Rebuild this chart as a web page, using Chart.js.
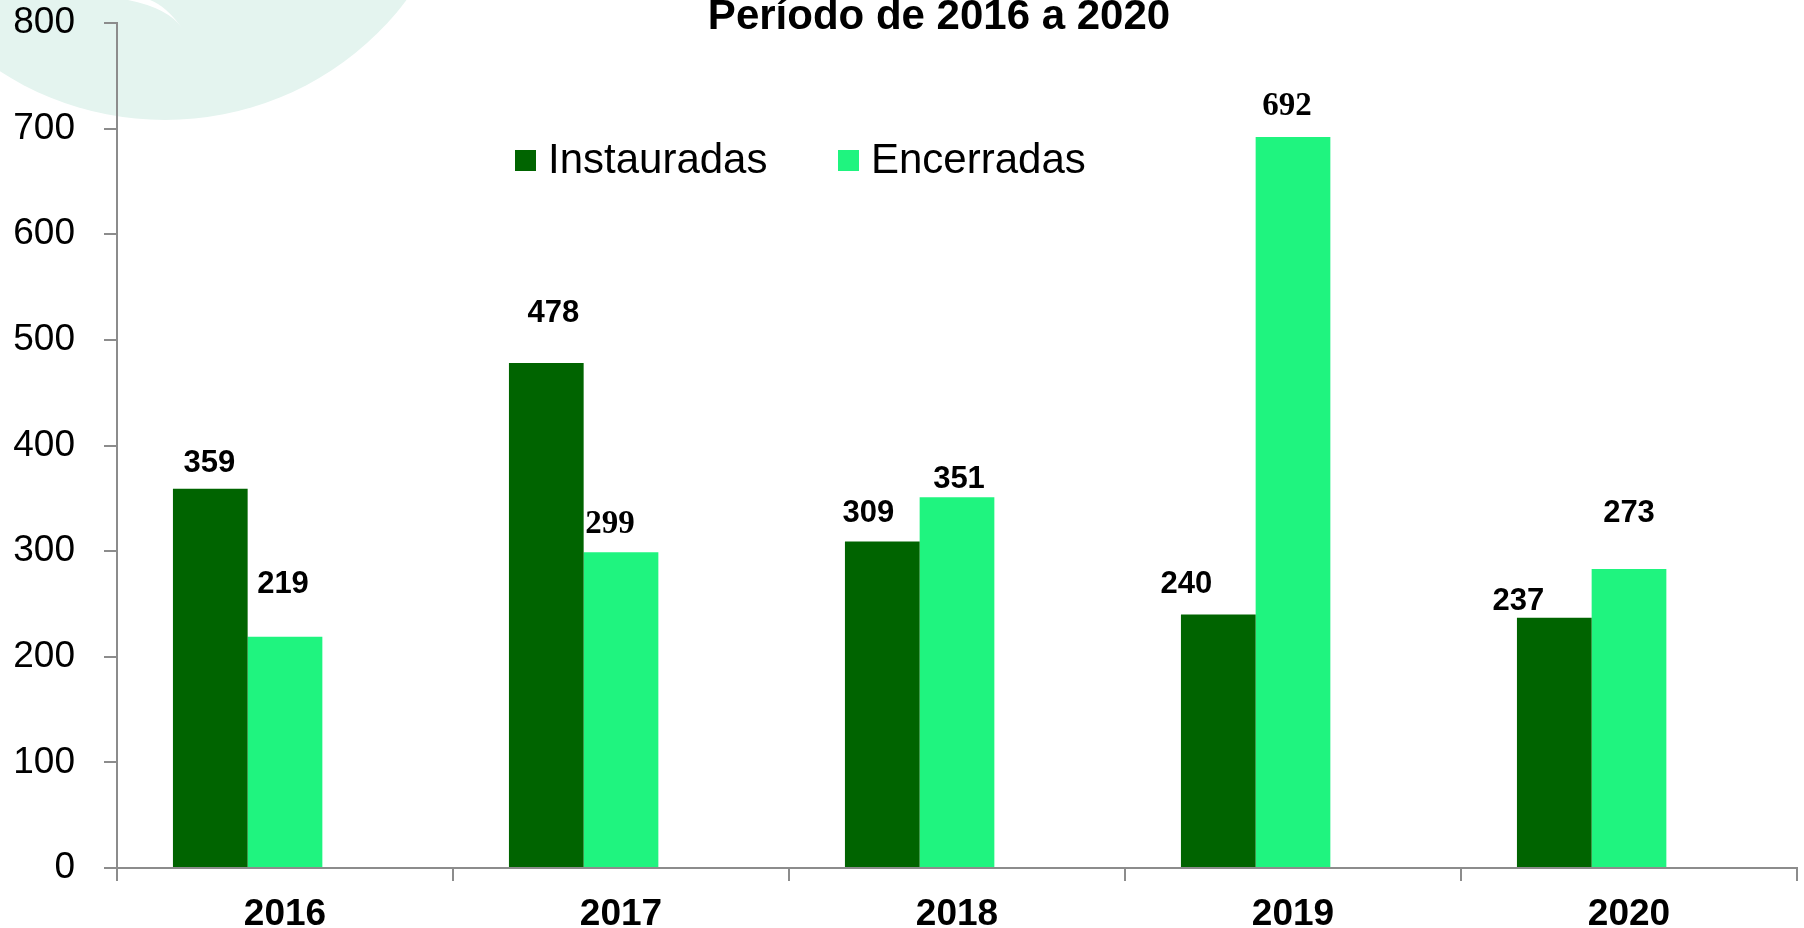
<!DOCTYPE html>
<html lang="pt-BR">
<head>
<meta charset="utf-8">
<title>Sindicâncias - Período de 2016 a 2020</title>
<script src="https://cdn.jsdelivr.net/npm/chart.js@4.4.1/dist/chart.umd.min.js"></script>
<style>
    html, body { margin: 0; padding: 0; background: #fff; overflow: hidden; }
    #wrap { width: 1804px; height: 928px; }
</style>
</head>
<body>
<div id="wrap"><canvas id="sindicanciasChart" width="1804" height="928"></canvas></div>
<script>
// Dados
const anos = ['2016', '2017', '2018', '2019', '2020'];
const instauradas = [359, 478, 309, 240, 237];
const encerradas = [219, 299, 351, 692, 283];
// rótulos como aparecem no gráfico original (2020 diz 273)
const rotulosInstauradas = ['359', '478', '309', '240', '237'];
const rotulosEncerradas = ['219', '299', '351', '692', '273'];
// série vazia: o grupo original reserva espaço para uma terceira barra
const serieVazia = [null, null, null, null, null];
const yTicks = [0, 100, 200, 300, 400, 500, 600, 700, 800];
const titulo = 'Período de 2016 a 2020';

// Estilo dos rótulos (deslocamento em px relativo ao topo da barra)
const rotuloDx = [[-1, 7, -14, -32, -36], [-2, -11, 2, -6, 0]];
const rotuloGap = [[25, 50, 28, 30, 16], [52, 28, 18, 31, 56]];
const rotuloSerif = [[false, false, false, false, false], [false, true, false, true, false]];

const COR_ESCURA = '#006400';
const COR_CLARA = '#1ff47f';
const COR_EIXO = '#8c8c8c';
const SANS = '"Liberation Sans", Arial, sans-serif';
const SERIF = '"Liberation Serif", "Times New Roman", serif';

const fundoPlugin = {
    id: 'fundo',
    beforeDraw(chart) {
        const ctx = chart.ctx;
        ctx.save();
        ctx.fillStyle = '#ffffff';
        ctx.fillRect(0, 0, chart.width, chart.height);
        // marca d'água em verde bem claro no canto
        ctx.fillStyle = '#e4f4ef';
        ctx.beginPath();
        ctx.ellipse(165, -175, 300, 295, 0, 0, Math.PI * 2);
        ctx.fill();
        ctx.fillStyle = '#ffffff';
        ctx.beginPath();
        ctx.moveTo(128, 0);
        ctx.quadraticCurveTo(168, 8, 182, 28);
        ctx.quadraticCurveTo(166, 6, 150, 0);
        ctx.closePath();
        ctx.fill();
        ctx.restore();
    }
};

const textosPlugin = {
    id: 'textos',
    afterDraw(chart) {
        const ctx = chart.ctx;
        ctx.save();

        // título (cortado no topo, como no original)
        ctx.fillStyle = '#000';
        ctx.font = `bold 42px ${SANS}`;
        ctx.textAlign = 'center';
        ctx.textBaseline = 'alphabetic';
        ctx.fillText(titulo, 939, 29);

        // legenda
        const itens = [
            { x: 515, ds: chart.data.datasets[0] },
            { x: 838, ds: chart.data.datasets[1] }
        ];
        ctx.font = `42px ${SANS}`;
        ctx.textAlign = 'left';
        ctx.textBaseline = 'middle';
        itens.forEach(item => {
            ctx.fillStyle = item.ds.backgroundColor;
            ctx.fillRect(item.x, 150, 21, 21);
            ctx.fillStyle = '#000';
            ctx.fillText(item.ds.label, item.x + 33, 161);
        });

        // rótulos das barras
        const rotulos = [rotulosInstauradas, rotulosEncerradas];
        ctx.textAlign = 'center';
        [0, 1].forEach(d => {
            const meta = chart.getDatasetMeta(d);
            meta.data.forEach((bar, i) => {
                const serif = rotuloSerif[d][i];
                ctx.font = serif ? `bold 33px ${SERIF}` : `bold 31px ${SANS}`;
                ctx.fillText(rotulos[d][i], bar.x + rotuloDx[d][i], bar.y - rotuloGap[d][i]);
            });
        });

        ctx.restore();
    }
};

new Chart(document.getElementById('sindicanciasChart'), {
    type: 'bar',
    data: {
        labels: anos,
        datasets: [
            { label: 'Instauradas', data: instauradas, backgroundColor: COR_ESCURA },
            { label: 'Encerradas', data: encerradas, backgroundColor: COR_CLARA },
            { label: '', data: serieVazia, backgroundColor: 'rgba(0,0,0,0)' }
        ]
    },
    options: {
        responsive: false,
        animation: false,
        devicePixelRatio: 1,
        layout: { padding: { top: 23, right: 7, left: 0, bottom: 0 } },
        datasets: {
            bar: { categoryPercentage: 0.667, barPercentage: 1.0, borderWidth: 0 }
        },
        plugins: {
            legend: { display: false },
            title: { display: false },
            tooltip: { enabled: false }
        },
        scales: {
            x: {
                grid: {
                    drawOnChartArea: false,
                    drawTicks: true,
                    tickLength: 13,
                    color: COR_EIXO,
                    lineWidth: 2,
                    offset: true
                },
                border: { display: true, color: COR_EIXO, width: 2 },
                ticks: {
                    color: '#000',
                    font: { family: SANS, size: 37, weight: 'bold' },
                    padding: 12,
                    maxRotation: 0
                },
                afterFit(scale) { scale.height = 60; }
            },
            y: {
                min: 0,
                max: 800,
                afterBuildTicks(scale) {
                    scale.ticks = yTicks.map(v => ({ value: v }));
                },
                grid: {
                    drawOnChartArea: false,
                    drawTicks: true,
                    tickLength: 13,
                    color: COR_EIXO,
                    lineWidth: 2
                },
                border: { display: true, color: COR_EIXO, width: 2 },
                ticks: {
                    color: '#000',
                    font: { family: SANS, size: 37 },
                    padding: 29
                },
                afterFit(scale) {
                    scale.width = 117;
                    scale.paddingTop = 0;
                    scale.paddingBottom = 0;
                }
            }
        }
    },
    plugins: [fundoPlugin, textosPlugin]
});
</script>
</body>
</html>
